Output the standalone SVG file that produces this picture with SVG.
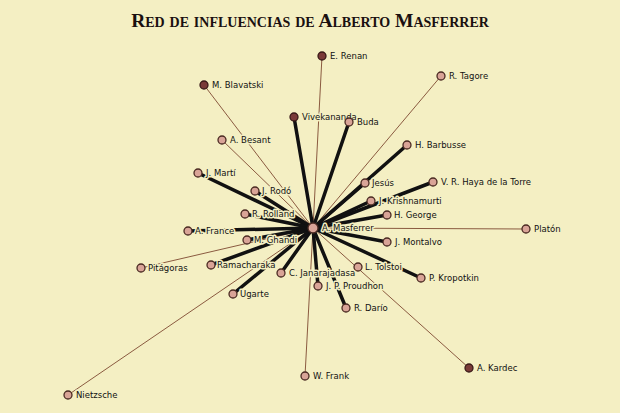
<svg xmlns="http://www.w3.org/2000/svg" width="620" height="413" viewBox="0 0 620 413">
<style>
.thick{stroke:#111;stroke-width:3.5;stroke-linecap:round}
.thin{stroke:#8a5a40;stroke-width:1}
.n{fill:#d9a497;stroke:#4a2a22;stroke-width:1.3}
.d{fill:#7a3a38;stroke:#3a1a18;stroke-width:1.3}
text{font-family:"DejaVu Sans",sans-serif;font-size:8.5px;fill:#111;stroke:#f4efc3;stroke-width:3px;paint-order:stroke;stroke-linejoin:round}
.t{font-family:"Liberation Serif",serif;font-size:19.5px;font-weight:bold;font-variant:small-caps;fill:#1a1010;stroke:none}
</style>
<rect width="620" height="413" fill="#f4efc3"/>
<text class="t" x="310" y="27" text-anchor="middle">Red de influencias de Alberto Masferrer</text>
<g id="connectors">
<line class="thin" x1="313" y1="228" x2="322" y2="56"/>
<line class="thin" x1="313" y1="228" x2="441" y2="76"/>
<line class="thin" x1="313" y1="228" x2="204" y2="85"/>
<line class="thin" x1="313" y1="228" x2="222" y2="140"/>
<line class="thin" x1="313" y1="228" x2="526" y2="229"/>
<line class="thin" x1="313" y1="228" x2="141" y2="268"/>
<line class="thin" x1="313" y1="228" x2="68" y2="395"/>
<line class="thin" x1="313" y1="228" x2="305" y2="376"/>
<line class="thin" x1="313" y1="228" x2="469" y2="368"/>
<line class="thick" x1="313" y1="228" x2="294" y2="117"/>
<line class="thick" x1="313" y1="228" x2="349" y2="122"/>
<line class="thick" x1="313" y1="228" x2="407" y2="145"/>
<line class="thick" x1="313" y1="228" x2="198" y2="173"/>
<line class="thick" x1="313" y1="228" x2="365" y2="183"/>
<line class="thick" x1="313" y1="228" x2="433" y2="182"/>
<line class="thick" x1="313" y1="228" x2="255" y2="191"/>
<line class="thick" x1="313" y1="228" x2="371" y2="201"/>
<line class="thick" x1="313" y1="228" x2="245" y2="214"/>
<line class="thick" x1="313" y1="228" x2="387" y2="215"/>
<line class="thick" x1="313" y1="228" x2="188" y2="231"/>
<line class="thick" x1="313" y1="228" x2="247" y2="240"/>
<line class="thick" x1="313" y1="228" x2="387" y2="242"/>
<line class="thick" x1="313" y1="228" x2="211" y2="265"/>
<line class="thick" x1="313" y1="228" x2="421" y2="278"/>
<line class="thick" x1="313" y1="228" x2="281" y2="273"/>
<line class="thick" x1="313" y1="228" x2="318" y2="286"/>
<line class="thick" x1="313" y1="228" x2="233" y2="294"/>
<line class="thick" x1="313" y1="228" x2="346" y2="308"/>
</g>
<g id="n-renan"><circle class="d" cx="322" cy="56" r="4"/><text x="330" y="59">E. Renan</text></g>
<g id="n-tagore"><circle class="n" cx="441" cy="76" r="4"/><text x="449" y="79">R. Tagore</text></g>
<g id="n-blavatski"><circle class="d" cx="204" cy="85" r="4"/><text x="212" y="88">M. Blavatski</text></g>
<g id="n-vivekananda"><circle class="d" cx="294" cy="117" r="4"/><text x="302" y="120">Vivekananda</text></g>
<g id="n-buda"><circle class="n" cx="349" cy="122" r="4"/><text x="357" y="125">Buda</text></g>
<g id="n-besant"><circle class="n" cx="222" cy="140" r="4"/><text x="230" y="143">A. Besant</text></g>
<g id="n-barbusse"><circle class="n" cx="407" cy="145" r="4"/><text x="415" y="148">H. Barbusse</text></g>
<g id="n-marti"><circle class="n" cx="198" cy="173" r="4"/><text x="206" y="176">J. Martí</text></g>
<g id="n-jesus"><circle class="n" cx="365" cy="183" r="4"/><text x="372" y="186">Jesús</text></g>
<g id="n-haya"><circle class="n" cx="433" cy="182" r="4"/><text x="441" y="185">V. R. Haya de la Torre</text></g>
<g id="n-rodo"><circle class="n" cx="255" cy="191" r="4"/><text x="262" y="194">J. Rodó</text></g>
<g id="n-krishnamurti"><circle class="n" cx="371" cy="201" r="4"/><text x="379" y="204">J. Krishnamurti</text></g>
<g id="n-rolland"><circle class="n" cx="245" cy="214" r="4"/><text x="252" y="217">R. Rolland</text></g>
<g id="n-george"><circle class="n" cx="387" cy="215" r="4"/><text x="394" y="218">H. George</text></g>
<g id="n-france"><circle class="n" cx="188" cy="231" r="4"/><text x="195" y="234">A. France</text></g>
<g id="n-masferrer"><circle class="n" cx="313" cy="228" r="5"/><text x="322" y="231">A. Masferrer</text></g>
<g id="n-platon"><circle class="n" cx="526" cy="229" r="4"/><text x="534" y="232">Platón</text></g>
<g id="n-ghandi"><circle class="n" cx="247" cy="240" r="4"/><text x="254" y="243">M. Ghandi</text></g>
<g id="n-montalvo"><circle class="n" cx="387" cy="242" r="4"/><text x="395" y="245">J. Montalvo</text></g>
<g id="n-pitagoras"><circle class="n" cx="141" cy="268" r="4"/><text x="148" y="271">Pitágoras</text></g>
<g id="n-ramacharaka"><circle class="n" cx="211" cy="265" r="4"/><text x="217" y="268">Ramacharaka</text></g>
<g id="n-tolstoi"><circle class="n" cx="358" cy="267" r="4"/><text x="365" y="270">L. Tolstoi</text></g>
<g id="n-kropotkin"><circle class="n" cx="421" cy="278" r="4"/><text x="429" y="281">P. Kropotkin</text></g>
<g id="n-janarajadasa"><circle class="n" cx="281" cy="273" r="4"/><text x="289" y="276">C. Janarajadasa</text></g>
<g id="n-proudhon"><circle class="n" cx="318" cy="286" r="4"/><text x="326" y="289">J. P. Proudhon</text></g>
<g id="n-ugarte"><circle class="n" cx="233" cy="294" r="4"/><text x="240" y="297">Ugarte</text></g>
<g id="n-dario"><circle class="n" cx="346" cy="308" r="4"/><text x="354" y="311">R. Darío</text></g>
<g id="n-frank"><circle class="n" cx="305" cy="376" r="4"/><text x="313" y="379">W. Frank</text></g>
<g id="n-kardec"><circle class="d" cx="469" cy="368" r="4"/><text x="477" y="371">A. Kardec</text></g>
<g id="n-nietzsche"><circle class="n" cx="68" cy="395" r="4"/><text x="76" y="398">Nietzsche</text></g>
</svg>
